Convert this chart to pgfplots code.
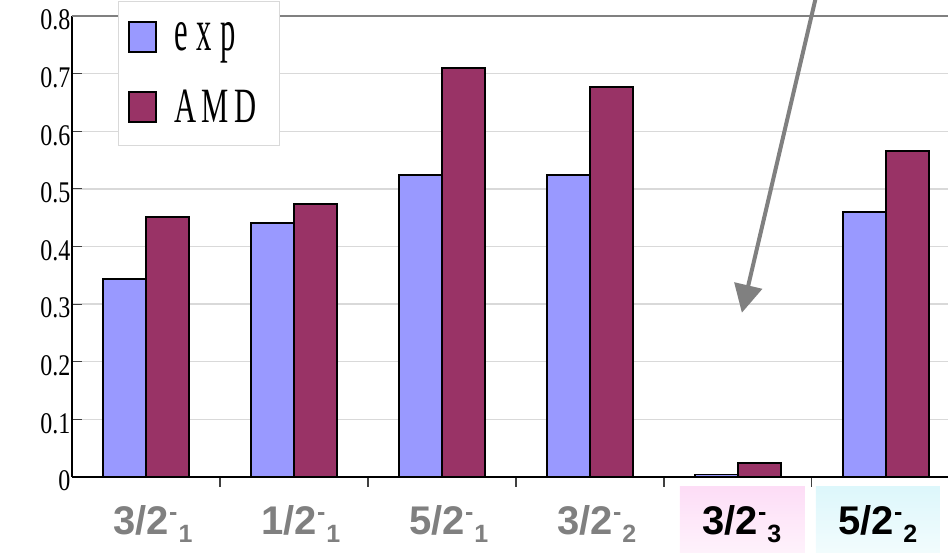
\documentclass[border=0pt]{standalone}
\usepackage{fontspec}
\setmainfont{Liberation Serif}
\newfontfamily\arial{Liberation Sans}
\usepackage{pgfplots}
\pgfplotsset{compat=1.18}
\usetikzlibrary{arrows.meta}
\definecolor{expc}{HTML}{9999FF}
\definecolor{amdc}{HTML}{993366}
\definecolor{gridc}{HTML}{D9D9D9}
\definecolor{labgray}{HTML}{808080}
\definecolor{pinktop}{HTML}{FDDDF6}
\definecolor{cyantop}{HTML}{DDF7FB}

% state label: J^pi with a subscript counting the level
\newcommand{\lev}[2]{{\arial\bfseries\fontsize{40}{40}\selectfont #1%
  \raisebox{14pt}{\fontsize{25}{25}\selectfont -}%
  \raisebox{-8pt}{\kern1pt\fontsize{25}{25}\selectfont #2}}}
\newcommand{\tall}[2]{\scalebox{0.9}[#1]{\fontsize{34}{34}\selectfont #2}}

\begin{document}
\begin{tikzpicture}
\begin{axis}[
  scale only axis,
  width=876pt, height=461pt,
  xmin=-0.5, xmax=5.42,
  ymin=0, ymax=0.8,
  axis x line*=bottom, axis y line*=left,
  axis line style={black, line width=1.6pt, -},
  ytick={0,0.1,...,0.8},
  xtick={0.5,1.5,2.5,3.5,4.5},
  xticklabels={},
  tick align=inside,
  major tick length=10pt,
  tick style={black!75, line width=1.2pt},
  ymajorgrids,
  grid style={gridc, line width=1.3pt},
  /pgf/number format/assume math mode=true,
  yticklabel={\scalebox{1}[1.25]{\pgfmathprintnumber{\tick}}},
  yticklabel style={font=\fontsize{24}{24}\selectfont, xshift=2pt, yshift=-4pt},
  ybar, bar width=43pt,
  clip=false,
  legend style={at={(46pt,476pt)}, anchor=north west, draw=gray!30,
    line width=0.8pt, fill=white,
    inner xsep=10pt, inner ysep=19pt, row sep=34pt},
  legend cell align=left,
  legend image code/.code={\draw[#1, draw=black, line width=1.6pt]
    (0pt,-15pt) rectangle (27pt,15pt);},
]
\addplot[fill=expc, draw=black, line width=1.6pt, bar shift=-21.5pt]
  coordinates {(0,0.344) (1,0.441) (2,0.524) (3,0.524) (4,0.004) (5,0.460)};
\addlegendentry{\kern15pt\tall{1.75}{e\kern10pt x\kern10pt p}}
\addplot[fill=amdc, draw=black, line width=1.6pt, bar shift=21.5pt]
  coordinates {(0,0.451) (1,0.474) (2,0.710) (3,0.677) (4,0.024) (5,0.566)};
\addlegendentry{\kern15pt\tall{1.45}{A\kern6pt M\kern6pt D}\kern11pt}

% top frame line
\draw[labgray, line width=2pt] (axis cs:-0.5,0.8) -- (axis cs:5.42,0.8);

% anchors for the level labels
\coordinate (c0) at (axis cs:0,0);
\coordinate (c1) at (axis cs:1,0);
\coordinate (c2) at (axis cs:2,0);
\coordinate (c3) at (axis cs:3,0);
\coordinate (c4) at (axis cs:4,0);
\coordinate (c5) at (axis cs:5,0);
\coordinate (a0) at (axis cs:4.534,0.84);
\coordinate (a1) at (axis cs:4.027,0.285);
\end{axis}

% highlighted level backgrounds
\shade[top color=pinktop, bottom color=pinktop!25] ([shift={(-58pt,-10pt)}]c4) rectangle ([shift={(67pt,-90pt)}]c4);
\shade[top color=cyantop, bottom color=cyantop!25] ([shift={(-70pt,-10pt)}]c5) rectangle ([shift={(54pt,-90pt)}]c5);

% level labels
\node[anchor=base, text=labgray, inner sep=0pt] at ([shift={(7pt,-58pt)}]c0) {\lev{3/2}{1}};
\node[anchor=base, text=labgray, inner sep=0pt] at ([shift={(7pt,-58pt)}]c1) {\lev{1/2}{1}};
\node[anchor=base, text=labgray, inner sep=0pt] at ([shift={(7pt,-58pt)}]c2) {\lev{5/2}{1}};
\node[anchor=base, text=labgray, inner sep=0pt] at ([shift={(7pt,-58pt)}]c3) {\lev{3/2}{2}};
\node[anchor=base, text=black, inner sep=0pt] at ([shift={(4pt,-58pt)}]c4) {\lev{3/2}{3}};
\node[anchor=base, text=black, inner sep=0pt] at ([shift={(-8pt,-58pt)}]c5) {\lev{5/2}{2}};

% pointer to the weak transition
\draw[labgray, line width=4pt, -{Triangle[length=28pt,width=28pt]}] (a0) -- (a1);

\pgfresetboundingbox
\path ([shift={(-72pt,-76pt)}]current axis.south west) rectangle ([shift={(0pt,16pt)}]current axis.north east);
\end{tikzpicture}
\end{document}
